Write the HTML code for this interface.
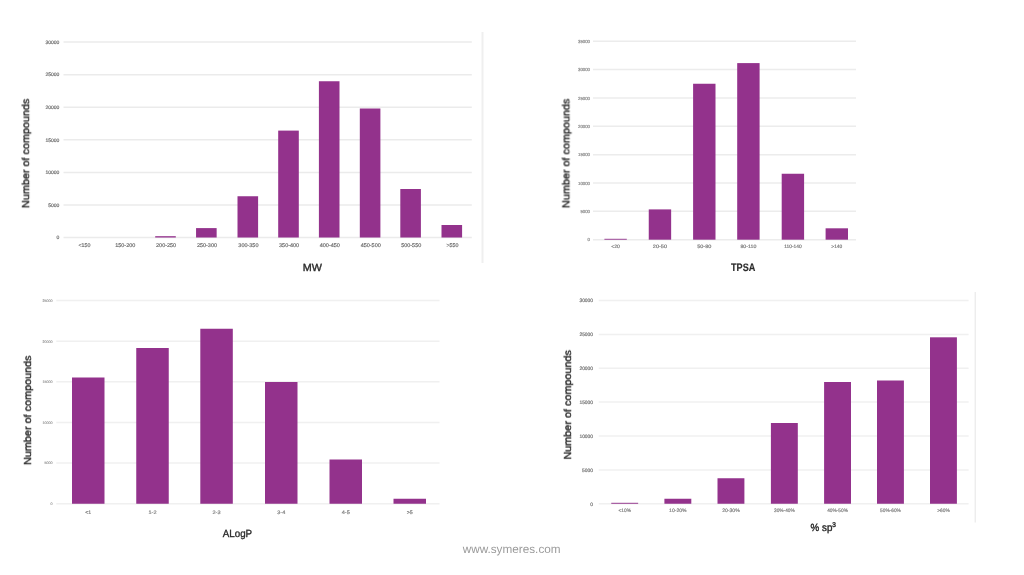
<!DOCTYPE html>
<html lang="en"><head><meta charset="utf-8"><title>Compound library property distributions</title>
<style>
html,body{margin:0;padding:0;background:#fff;}
body{width:1024px;height:575px;overflow:hidden;font-family:"Liberation Sans", "DejaVu Sans", sans-serif;}
svg{display:block;}
text{font-family:"Liberation Sans", "DejaVu Sans", sans-serif;text-rendering:geometricPrecision;}
.tick{filter:url(#b1);}
.ttl{filter:url(#b2);}
</style></head><body>
<svg width="1024" height="575" viewBox="0 0 1024 575">
<defs><filter id="b1" x="-5%" y="-5%" width="110%" height="110%"><feGaussianBlur stdDeviation="0.45"/></filter><filter id="b2" x="-5%" y="-5%" width="110%" height="110%"><feGaussianBlur stdDeviation="0.3"/></filter><filter id="b3" x="-5%" y="-5%" width="110%" height="110%"><feGaussianBlur stdDeviation="0.35"/></filter></defs>
<rect x="0" y="0" width="1024" height="575" fill="#ffffff"/>
<rect x="481.5" y="32" width="2" height="231" fill="#efefef"/>
<rect x="974.6" y="292" width="1.3" height="230.5" fill="#ebebeb"/>
<g>
<g stroke="#ebebeb" stroke-width="1.5" filter="url(#b3)">
<line x1="63.5" y1="42.1" x2="471.8" y2="42.1"/>
<line x1="63.5" y1="74.67" x2="471.8" y2="74.67"/>
<line x1="63.5" y1="107.24" x2="471.8" y2="107.24"/>
<line x1="63.5" y1="139.81" x2="471.8" y2="139.81"/>
<line x1="63.5" y1="172.38" x2="471.8" y2="172.38"/>
<line x1="63.5" y1="204.95" x2="471.8" y2="204.95"/>
<line x1="63.5" y1="237.52" x2="471.8" y2="237.52"/>
</g>
<g class="tick" fill="#6c6c6c" stroke="#6c6c6c" stroke-width="0.18" font-size="5" text-anchor="end">
<text x="59.4" y="43.9" textLength="14" lengthAdjust="spacingAndGlyphs">30000</text>
<text x="59.4" y="76.47" textLength="14" lengthAdjust="spacingAndGlyphs">25000</text>
<text x="59.4" y="109.04" textLength="14" lengthAdjust="spacingAndGlyphs">20000</text>
<text x="59.4" y="141.61" textLength="14" lengthAdjust="spacingAndGlyphs">15000</text>
<text x="59.4" y="174.18" textLength="14" lengthAdjust="spacingAndGlyphs">10000</text>
<text x="59.4" y="206.75" textLength="11.2" lengthAdjust="spacingAndGlyphs">5000</text>
<text x="59.4" y="239.32" textLength="2.8" lengthAdjust="spacingAndGlyphs">0</text>
</g>
<g fill="#93328c" filter="url(#b2)">
<rect x="155.2" y="236.2" width="20.6" height="1.32"/>
<rect x="196.05" y="228.1" width="20.6" height="9.42"/>
<rect x="237.5" y="196.25" width="20.6" height="41.27"/>
<rect x="278.2" y="130.6" width="20.6" height="106.92"/>
<rect x="318.9" y="81.25" width="20.6" height="156.27"/>
<rect x="359.8" y="108.5" width="20.6" height="129.02"/>
<rect x="400.3" y="189" width="20.6" height="48.52"/>
<rect x="441.5" y="225" width="20.6" height="12.52"/>
</g>
<g class="tick" fill="#686868" stroke="#686868" stroke-width="0.18" font-size="5.4" text-anchor="middle">
<text x="84.4" y="247.2" textLength="11.9" lengthAdjust="spacingAndGlyphs">&lt;150</text>
<text x="125.25" y="247.2" textLength="20.1" lengthAdjust="spacingAndGlyphs">150-200</text>
<text x="166.1" y="247.2" textLength="20.1" lengthAdjust="spacingAndGlyphs">200-250</text>
<text x="206.95" y="247.2" textLength="20.1" lengthAdjust="spacingAndGlyphs">250-300</text>
<text x="248.4" y="247.2" textLength="20.1" lengthAdjust="spacingAndGlyphs">300-350</text>
<text x="289.1" y="247.2" textLength="20.1" lengthAdjust="spacingAndGlyphs">350-400</text>
<text x="329.8" y="247.2" textLength="20.1" lengthAdjust="spacingAndGlyphs">400-450</text>
<text x="370.7" y="247.2" textLength="20.1" lengthAdjust="spacingAndGlyphs">450-500</text>
<text x="411.2" y="247.2" textLength="20.1" lengthAdjust="spacingAndGlyphs">500-550</text>
<text x="452.4" y="247.2" textLength="12" lengthAdjust="spacingAndGlyphs">&gt;550</text>
</g>
<text class="ttl" transform="translate(29.1 153.38) rotate(-90)" text-anchor="middle" font-size="10.2" fill="#2b2b2b" stroke="#2b2b2b" stroke-width="0.38" textLength="109.25" lengthAdjust="spacingAndGlyphs">Number of compounds</text>
<text class="ttl" x="312.32" y="271" text-anchor="middle" font-size="10.4" fill="#2b2b2b" stroke="#2b2b2b" stroke-width="0.35" textLength="19.15" lengthAdjust="spacingAndGlyphs">MW</text>
</g>
<g>
<g stroke="#ececec" stroke-width="1.5" filter="url(#b3)">
<line x1="593" y1="41.25" x2="856" y2="41.25"/>
<line x1="593" y1="69.6" x2="856" y2="69.6"/>
<line x1="593" y1="97.95" x2="856" y2="97.95"/>
<line x1="593" y1="126.3" x2="856" y2="126.3"/>
<line x1="593" y1="154.65" x2="856" y2="154.65"/>
<line x1="593" y1="183" x2="856" y2="183"/>
<line x1="593" y1="211.35" x2="856" y2="211.35"/>
<line x1="593" y1="239.7" x2="856" y2="239.7"/>
</g>
<g class="tick" fill="#868686" stroke="#868686" stroke-width="0.18" font-size="4.4" text-anchor="end">
<text x="590" y="42.83" textLength="12" lengthAdjust="spacingAndGlyphs">35000</text>
<text x="590" y="71.18" textLength="12" lengthAdjust="spacingAndGlyphs">30000</text>
<text x="590" y="99.53" textLength="12" lengthAdjust="spacingAndGlyphs">25000</text>
<text x="590" y="127.88" textLength="12" lengthAdjust="spacingAndGlyphs">20000</text>
<text x="590" y="156.23" textLength="12" lengthAdjust="spacingAndGlyphs">15000</text>
<text x="590" y="184.58" textLength="12" lengthAdjust="spacingAndGlyphs">10000</text>
<text x="590" y="212.93" textLength="9.6" lengthAdjust="spacingAndGlyphs">5000</text>
<text x="590" y="241.28" textLength="2.4" lengthAdjust="spacingAndGlyphs">0</text>
</g>
<g fill="#93328c" filter="url(#b2)">
<rect x="604.4" y="238.8" width="22.4" height="0.9"/>
<rect x="648.75" y="209.4" width="22.4" height="30.3"/>
<rect x="693.1" y="83.75" width="22.4" height="155.95"/>
<rect x="737.2" y="63.1" width="22.4" height="176.6"/>
<rect x="781.7" y="173.75" width="22.4" height="65.95"/>
<rect x="825.6" y="228.3" width="22.4" height="11.4"/>
</g>
<g class="tick" fill="#7c7c7c" stroke="#7c7c7c" stroke-width="0.18" font-size="4.8" text-anchor="middle">
<text x="615.6" y="248.3" textLength="8.6" lengthAdjust="spacingAndGlyphs">&lt;20</text>
<text x="659.95" y="248.3" textLength="14.2" lengthAdjust="spacingAndGlyphs">20-50</text>
<text x="704.3" y="248.3" textLength="14.2" lengthAdjust="spacingAndGlyphs">50-80</text>
<text x="748.4" y="248.3" textLength="16" lengthAdjust="spacingAndGlyphs">80-110</text>
<text x="792.9" y="248.3" textLength="17.5" lengthAdjust="spacingAndGlyphs">110-140</text>
<text x="836.8" y="248.3" textLength="11" lengthAdjust="spacingAndGlyphs">&gt;140</text>
</g>
<text class="ttl" transform="translate(569.4 153.38) rotate(-90)" text-anchor="middle" font-size="10.2" fill="#2b2b2b" stroke="#2b2b2b" stroke-width="0.38" textLength="109.25" lengthAdjust="spacingAndGlyphs">Number of compounds</text>
<text class="ttl" x="743.15" y="270.7" text-anchor="middle" font-size="10.8" font-weight="700" fill="#2b2b2b" stroke="#2b2b2b" stroke-width="0.15" textLength="24.3" lengthAdjust="spacingAndGlyphs">TPSA</text>
</g>
<g>
<g stroke="#f0f0f0" stroke-width="1.5" filter="url(#b3)">
<line x1="56.25" y1="300.6" x2="439.5" y2="300.6"/>
<line x1="56.25" y1="341.23" x2="439.5" y2="341.23"/>
<line x1="56.25" y1="381.86" x2="439.5" y2="381.86"/>
<line x1="56.25" y1="422.49" x2="439.5" y2="422.49"/>
<line x1="56.25" y1="463.12" x2="439.5" y2="463.12"/>
<line x1="56.25" y1="503.75" x2="439.5" y2="503.75"/>
</g>
<g class="tick" fill="#9a9a9a" stroke="#9a9a9a" stroke-width="0.18" font-size="3.7" text-anchor="end">
<text x="52.4" y="301.93" textLength="10" lengthAdjust="spacingAndGlyphs">25000</text>
<text x="52.4" y="342.56" textLength="10" lengthAdjust="spacingAndGlyphs">20000</text>
<text x="52.4" y="383.19" textLength="10" lengthAdjust="spacingAndGlyphs">15000</text>
<text x="52.4" y="423.82" textLength="10" lengthAdjust="spacingAndGlyphs">10000</text>
<text x="52.4" y="464.45" textLength="8" lengthAdjust="spacingAndGlyphs">5000</text>
<text x="52.4" y="505.08" textLength="2" lengthAdjust="spacingAndGlyphs">0</text>
</g>
<g fill="#93328c" filter="url(#b2)">
<rect x="72" y="377.5" width="32.5" height="126.25"/>
<rect x="136.25" y="348" width="32.5" height="155.75"/>
<rect x="200.3" y="328.75" width="32.5" height="175"/>
<rect x="265" y="382" width="32.5" height="121.75"/>
<rect x="329.5" y="459.5" width="32.5" height="44.25"/>
<rect x="393.5" y="498.75" width="32.5" height="5"/>
</g>
<g class="tick" fill="#7c7c7c" stroke="#7c7c7c" stroke-width="0.18" font-size="5" text-anchor="middle">
<text x="88.25" y="513.9" textLength="6" lengthAdjust="spacingAndGlyphs">&lt;1</text>
<text x="152.5" y="513.9" textLength="8" lengthAdjust="spacingAndGlyphs">1-2</text>
<text x="216.55" y="513.9" textLength="8" lengthAdjust="spacingAndGlyphs">2-3</text>
<text x="281.25" y="513.9" textLength="8" lengthAdjust="spacingAndGlyphs">3-4</text>
<text x="345.75" y="513.9" textLength="8" lengthAdjust="spacingAndGlyphs">4-5</text>
<text x="409.75" y="513.9" textLength="6" lengthAdjust="spacingAndGlyphs">&gt;5</text>
</g>
<text class="ttl" transform="translate(31 410.25) rotate(-90)" text-anchor="middle" font-size="10.2" fill="#2b2b2b" stroke="#2b2b2b" stroke-width="0.38" textLength="109.5" lengthAdjust="spacingAndGlyphs">Number of compounds</text>
<text class="ttl" x="237.43" y="537.1" text-anchor="middle" font-size="10.4" fill="#2b2b2b" stroke="#2b2b2b" stroke-width="0.35" textLength="29.35" lengthAdjust="spacingAndGlyphs">ALogP</text>
</g>
<g>
<g stroke="#f0f0f0" stroke-width="1.5" filter="url(#b3)">
<line x1="598.75" y1="300.5" x2="968.6" y2="300.5"/>
<line x1="598.75" y1="334.38" x2="968.6" y2="334.38"/>
<line x1="598.75" y1="368.25" x2="968.6" y2="368.25"/>
<line x1="598.75" y1="402.12" x2="968.6" y2="402.12"/>
<line x1="598.75" y1="436" x2="968.6" y2="436"/>
<line x1="598.75" y1="469.88" x2="968.6" y2="469.88"/>
<line x1="598.75" y1="503.75" x2="968.6" y2="503.75"/>
</g>
<g class="tick" fill="#727272" stroke="#727272" stroke-width="0.18" font-size="4.9" text-anchor="end">
<text x="593.1" y="302.26" textLength="13.7" lengthAdjust="spacingAndGlyphs">30000</text>
<text x="593.1" y="336.14" textLength="13.7" lengthAdjust="spacingAndGlyphs">25000</text>
<text x="593.1" y="370.01" textLength="13.7" lengthAdjust="spacingAndGlyphs">20000</text>
<text x="593.1" y="403.89" textLength="13.7" lengthAdjust="spacingAndGlyphs">15000</text>
<text x="593.1" y="437.76" textLength="13.7" lengthAdjust="spacingAndGlyphs">10000</text>
<text x="593.1" y="471.64" textLength="10.96" lengthAdjust="spacingAndGlyphs">5000</text>
<text x="593.1" y="505.51" textLength="2.74" lengthAdjust="spacingAndGlyphs">0</text>
</g>
<g fill="#93328c" filter="url(#b2)">
<rect x="611.25" y="502.8" width="26.9" height="0.95"/>
<rect x="664.4" y="498.75" width="26.9" height="5"/>
<rect x="717.5" y="478.25" width="26.9" height="25.5"/>
<rect x="770.9" y="423" width="26.9" height="80.75"/>
<rect x="824.1" y="382" width="26.9" height="121.75"/>
<rect x="877" y="380.5" width="26.9" height="123.25"/>
<rect x="930" y="337.3" width="26.9" height="166.45"/>
</g>
<g class="tick" fill="#7e7e7e" stroke="#7e7e7e" stroke-width="0.18" font-size="4.9" text-anchor="middle">
<text x="624.7" y="512.3" textLength="12.5" lengthAdjust="spacingAndGlyphs">&lt;10%</text>
<text x="677.85" y="512.3" textLength="17.5" lengthAdjust="spacingAndGlyphs">10-20%</text>
<text x="730.95" y="512.3" textLength="17.5" lengthAdjust="spacingAndGlyphs">20-30%</text>
<text x="784.35" y="512.3" textLength="20.75" lengthAdjust="spacingAndGlyphs">30%-40%</text>
<text x="837.55" y="512.3" textLength="20.75" lengthAdjust="spacingAndGlyphs">40%-50%</text>
<text x="890.45" y="512.3" textLength="20.75" lengthAdjust="spacingAndGlyphs">50%-60%</text>
<text x="943.45" y="512.3" textLength="12.5" lengthAdjust="spacingAndGlyphs">&gt;60%</text>
</g>
<text class="ttl" transform="translate(571 404.75) rotate(-90)" text-anchor="middle" font-size="10.2" fill="#2b2b2b" stroke="#2b2b2b" stroke-width="0.38" textLength="109.5" lengthAdjust="spacingAndGlyphs">Number of compounds</text>
<text class="ttl" x="810.6" y="531.3" font-size="10.5" fill="#2b2b2b" stroke="#2b2b2b" stroke-width="0.4" textLength="25.4" lengthAdjust="spacingAndGlyphs">% sp<tspan font-size="7" dy="-4.4">3</tspan></text>
</g>
<text class="ttl" x="511.65" y="553.2" text-anchor="middle" font-size="11.7" fill="#9b9b9b" textLength="97.9" lengthAdjust="spacingAndGlyphs">www.symeres.com</text>
</svg>
</body></html>
